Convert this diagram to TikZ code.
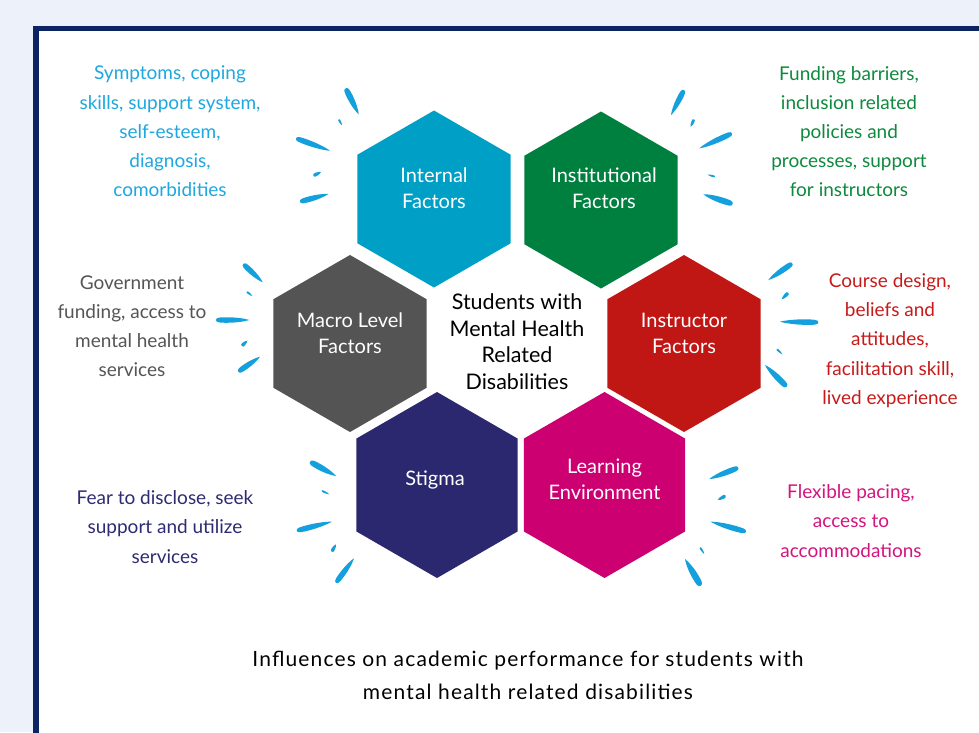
\documentclass[tikz,border=0pt]{standalone}
\usepackage{fontspec}
\setmainfont{Lato}
\newfontfamily\captionfont[LetterSpace=5.5]{Lato}
\usetikzlibrary{shapes.geometric,calc}

\definecolor{bgcol}{HTML}{EDF1F9}
\definecolor{framecol}{HTML}{0C2461}
\definecolor{splashcol}{HTML}{14A0DC}
\definecolor{cInternal}{HTML}{00A0C6}
\definecolor{cInstit}{HTML}{00803F}
\definecolor{cMacro}{HTML}{545454}
\definecolor{cInstr}{HTML}{C01614}
\definecolor{cStigma}{HTML}{2B2870}
\definecolor{cLearn}{HTML}{CC0070}
\definecolor{tBlue}{HTML}{1FA7E0}
\definecolor{tGreen}{HTML}{0E8A3E}
\definecolor{tGrey}{HTML}{555555}
\definecolor{tRed}{HTML}{C81A1A}
\definecolor{tNavy}{HTML}{2E2B72}
\definecolor{tMagenta}{HTML}{D4157D}

% tapered brush stroke: #1 thick end, #2 pointed end, #3 width
\newcommand\splash[3]{%
  \pgfmathsetmacro\hw{#3/2}%
  \pgfmathsetmacro\qw{0.45*#3/2}%
  \fill[splashcol] (#1)
    .. controls ($(#1)!\hw pt!90:(#2)$) and ($(#1)!0.12!(#2)!\hw pt!90:(#2)$) .. ($(#1)!0.35!(#2)!\hw pt!90:(#2)$)
    .. controls ($(#1)!0.6!(#2)!\hw pt!90:(#2)$) and ($(#1)!0.9!(#2)!\qw pt!90:(#2)$) .. (#2)
    .. controls ($(#1)!0.9!(#2)!\qw pt!-90:(#2)$) and ($(#1)!0.6!(#2)!\hw pt!-90:(#2)$) .. ($(#1)!0.35!(#2)!\hw pt!-90:(#2)$)
    .. controls ($(#1)!0.12!(#2)!\hw pt!-90:(#2)$) and ($(#1)!\hw pt!-90:(#2)$) .. (#1) -- cycle;
}

\begin{document}
\begin{tikzpicture}[x=1pt,y=-1pt,
  hexagon/.style={regular polygon, regular polygon sides=6, shape border rotate=30,
    inner sep=0pt, outer sep=0pt, draw=none},
  hexlabel/.style={align=center, text=white, inner sep=0pt,
    font=\fontsize{20}{26}\selectfont},
  sidetext/.style={align=center, inner sep=0pt,
    font=\fontsize{19}{29.2}\selectfont},
  hubtext/.style={align=center, inner sep=0pt, text=black,
    font=\fontsize{21.5}{26.5}\selectfont},
  captiontext/.style={align=center, inner sep=0pt, text=black,
    font=\captionfont\fontsize{21}{33}\selectfont}]

\useasboundingbox (0,0) rectangle (979,732);
\clip (0,0) rectangle (979,732);
\fill[bgcol] (0,0) rectangle (979,732);

% framed white panel running off the right and bottom edges
\fill[white] (36,28.5) rectangle (1010,760);
\draw[framecol, line width=5.5pt] (1010,28.5) -- (36,28.5) -- (36,760);

% honeycomb
\node[hexagon, fill=cInternal, minimum size=177pt] (internal) at (434,199) {};
\node[hexagon, fill=cInstit, minimum size=177pt] (instit) at (601,200) {};
\node[hexagon, fill=cMacro, minimum size=177pt] (macro) at (350,343.5) {};
\node[hexagon, fill=cInstr, minimum size=177pt] (instr) at (684,343.5) {};
\node[hexagon, fill=cStigma, minimum size=186pt] (stigma) at (437,485) {};
\node[hexagon, fill=cLearn, minimum size=186pt] (learn) at (604.5,485) {};

\node[hexlabel] (internallbl) at ($(internal)+(0,-11)$) {Internal\\Factors};
\node[hexlabel] (institlbl) at ($(instit)+(3,-12)$) {Institutional\\Factors};
\node[hexlabel] (macrolbl) at ($(macro)+(0,-10)$) {Macro Level\\Factors};
\node[hexlabel] (instrlbl) at ($(instr)+(0,-10)$) {Instructor\\Factors};
\node[hexlabel] (stigmalbl) at ($(stigma)+(-2,-5)$) {Stigma};
\node[hexlabel] (learnlbl) at ($(learn)+(0,-6)$) {Learning\\Environment};

\node[hubtext] (hub) at (517,341.5) {Students with\\Mental Health\\Related\\Disabilities};

% descriptions around the honeycomb
\node[sidetext, text=tBlue] (internaltxt) at (170,131.5)
  {Symptoms, coping\\skills, support system,\\self-esteem,\\diagnosis,\\comorbidities};
\node[sidetext, text=tGreen] (institxt) at (849,131.5)
  {Funding barriers,\\inclusion related\\policies and\\processes, support\\for instructors};
\node[sidetext, text=tGrey] (macrotxt) at (132,326)
  {Government\\funding, access to\\mental health\\services};
\node[sidetext, text=tRed] (instrtxt) at (890,340.5)
  {Course design,\\beliefs and\\attitudes,\\facilitation skill,\\lived experience};
\node[sidetext, text=tNavy] (stigmatxt) at (165,527)
  {Fear to disclose, seek\\support and utilize\\services};
\node[sidetext, text=tMagenta] (learntxt) at (851,521)
  {Flexible pacing,\\access to\\accommodations};

\node[captiontext] (caption) at (528,675.5)
  {Influences on academic performance for students with\\mental health related disabilities};

% brush strokes beside each outer hexagon
\splash{345.7,88.3}{358.7,114.3}{6}
\splash{338.7,119.3}{342,125.3}{2}
\splash{296,138.3}{330,150.7}{5.5}
\splash{313.3,175.7}{321,172}{3.5}
\splash{300,201.7}{328.3,194}{5.5}

\splash{684,90}{671,115}{5.5}
\splash{694,119.3}{690.7,126.7}{3}
\splash{732,133.3}{699.3,148.3}{5.5}
\splash{715,176.7}{707.7,174.7}{2}
\splash{732.7,204}{703.3,194.3}{6}

\splash{243.3,264}{262.7,282.3}{5.5}
\splash{246.7,291.7}{252.3,296}{2}
\splash{216,320}{249.3,320}{5.5}
\splash{241.7,346}{247.3,340.7}{3.5}
\splash{238.3,371.7}{260,356.7}{5.5}

\splash{792.3,263.3}{768.3,280}{5.5}
\splash{788.3,292.7}{781.7,299.3}{3.5}
\splash{818.3,322.3}{780,321.7}{5.5}
\splash{776.7,349}{782.3,354.3}{2}
\splash{786.7,386.7}{765,365}{6}

\splash{310,461.7}{336,476}{6}
\splash{321.7,490.7}{329.3,494.3}{2}
\splash{296.7,530.7}{331.7,521.7}{5.5}
\splash{331.7,551.7}{336,544.3}{3.5}
\splash{336,582.7}{354,558.3}{5.5}

\splash{738.3,467.7}{709.3,479}{5.5}
\splash{725.7,495.7}{717.7,500}{3.5}
\splash{746,531.7}{710.7,521.7}{5.5}
\splash{700,547.3}{704.3,554}{2}
\splash{700.7,585.7}{685,559}{6.5}
\end{tikzpicture}
\end{document}
